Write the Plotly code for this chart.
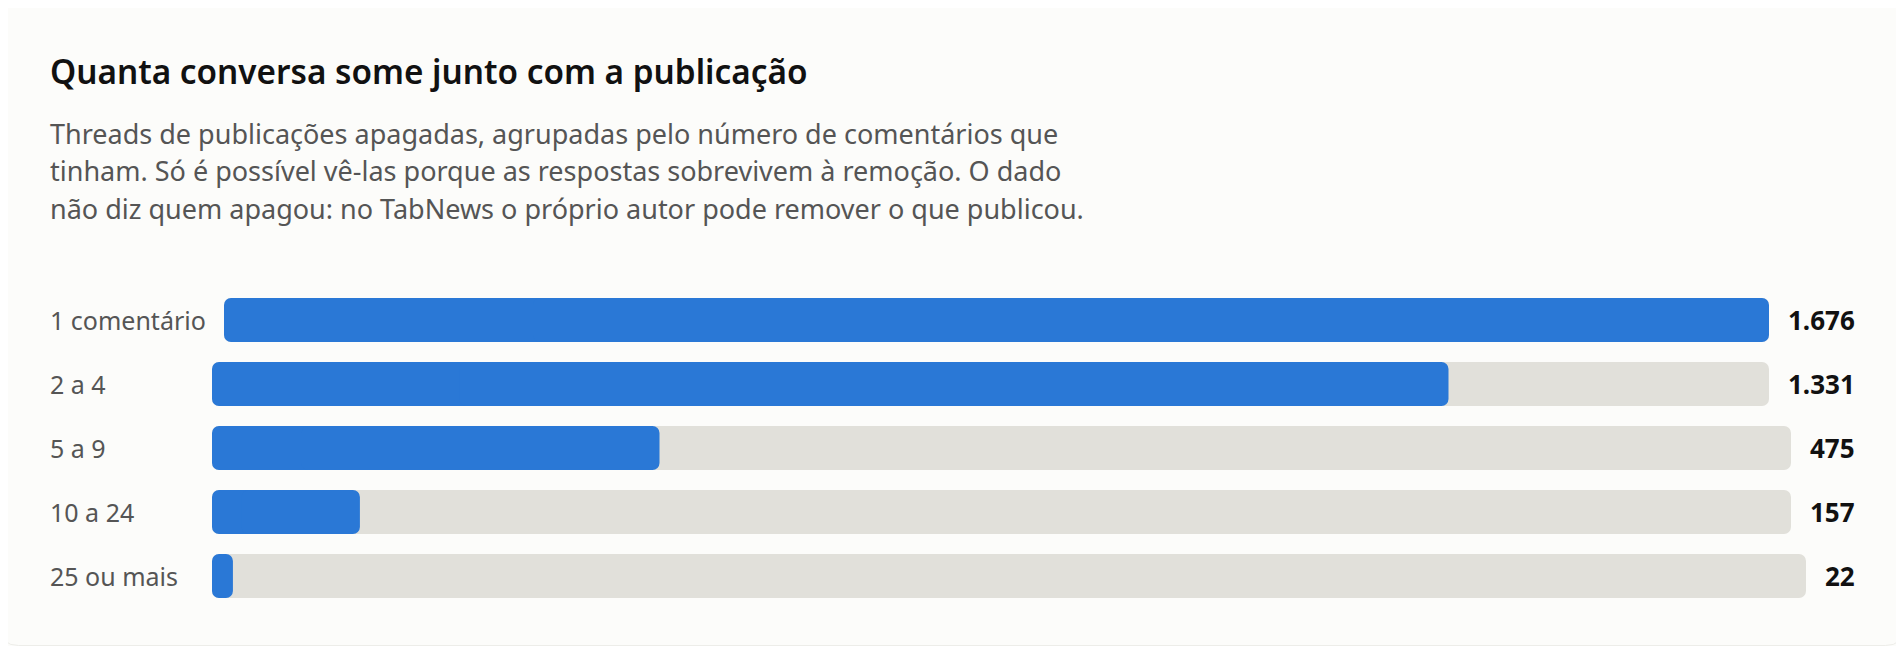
import plotly.graph_objects as go

# dados
categorias = ['1 comentário', '2 a 4', '5 a 9', '10 a 24', '25 ou mais']
threads = [1676, 1331, 475, 157, 22]

titulo = 'Quanta conversa some junto com a publicação'
subtitulo = [
    'Threads de publicações apagadas, agrupadas pelo número de comentários que',
    'tinham. Só é possível vê-las porque as respostas sobrevivem à remoção. O dado',
    'não diz quem apagou: no TabNews o próprio autor pode remover o que publicou.',
]

W, H = 1904, 646
OFF = 8  # margem do body da página
AZUL = '#2A78D6'
TRILHO = '#E1E0DA'
FUNDO = '#FCFCFA'
FONTE = 'Noto Sans'

# inicio/fim de cada trilho em px (o texto de cada linha empurra o trilho)
trilho_px = [(224, 1769), (212, 1769), (212, 1791), (212, 1791), (212, 1806)]
linha_topo, linha_base = 288, 608   # faixa vertical das linhas em px


def px_x(p):
    return (p - OFF) / W


def px_y(p):
    return 1 - (p - OFF) / H


def barra_arredondada(valor, cat, xa, cor):
    # cornerradius so arredonda a ponta livre da barra; duas partes sobrepostas
    # (uma para a direita, outra para a esquerda) arredondam as duas pontas
    comum = dict(y=[cat], orientation='h', xaxis=xa, yaxis='y', width=0.6875,
                 marker=dict(color=cor, cornerradius=7, line_width=0),
                 hoverinfo='skip', showlegend=False)
    return [
        go.Bar(x=[-valor * 0.8], base=[valor * 0.8], **comum),
        go.Bar(x=[valor * 0.8], base=[valor * 0.2], **comum),
    ]


maximo = max(threads)

fig = go.Figure()
layout_eixos = {}
for i, (cat, v) in enumerate(zip(categorias, threads)):
    n = '' if i == 0 else str(i + 1)
    xa = 'x' + n
    fig.add_traces(barra_arredondada(maximo, cat, xa, TRILHO))
    fig.add_traces(barra_arredondada(v, cat, xa, AZUL))
    x0, x1 = trilho_px[i]
    layout_eixos['xaxis' + n] = dict(
        domain=[px_x(x0), px_x(x1)], range=[0, maximo], anchor='y',
        visible=False, fixedrange=True,
    )

fig.update_layout(**layout_eixos)
fig.update_layout(
    width=W, height=H,
    margin=dict(l=0, r=0, t=0, b=0),
    paper_bgcolor=FUNDO, plot_bgcolor='rgba(0,0,0,0)',
    barmode='overlay', showlegend=False,
    font=dict(family=FONTE, color='#555555'),
    yaxis=dict(
        domain=[px_y(linha_base), px_y(linha_topo)],
        categoryorder='array', categoryarray=categorias,
        range=[len(categorias) - 0.5, -0.5],
        visible=False, fixedrange=True,
    ),
)

# borda do cartao (coordenadas da pagina)
x0c, x1c, y0c, y1c, r = px_x(0.5), px_x(W - 0.5), px_y(H - 0.5), px_y(0.5), 18
rx, ry = r / W, r / H
fig.add_shape(
    type='path', xref='paper', yref='paper', layer='below',
    path=(f'M {x0c + rx},{y0c} L {x1c - rx},{y0c} Q {x1c},{y0c} {x1c},{y0c + ry} '
          f'L {x1c},{y1c - ry} Q {x1c},{y1c} {x1c - rx},{y1c} '
          f'L {x0c + rx},{y1c} Q {x0c},{y1c} {x0c},{y1c - ry} '
          f'L {x0c},{y0c + ry} Q {x0c},{y0c} {x0c + rx},{y0c} Z'),
    fillcolor=FUNDO, line=dict(color='#EDEDE9', width=1),
)

fig.add_annotation(
    text=titulo, x=px_x(48), y=px_y(71), xref='paper', yref='paper',
    xanchor='left', yanchor='middle', showarrow=False,
    font=dict(size=33.3, color='#111111', weight=600),
)
for k, linha in enumerate(subtitulo):
    fig.add_annotation(
        text=linha, x=px_x(48), y=px_y(133 + 37.6 * k), xref='paper', yref='paper',
        xanchor='left', yanchor='middle', showarrow=False,
        font=dict(size=27, color='#555555'),
    )

for cat, v in zip(categorias, threads):
    fig.add_annotation(
        text=cat, x=px_x(48), y=cat, xref='paper', yref='y',
        xanchor='left', yanchor='middle', showarrow=False,
        font=dict(size=25, color='#555555'),
    )
    fig.add_annotation(
        text=f'{v:,}'.replace(',', '.'), x=px_x(1857), y=cat, xref='paper', yref='y',
        xanchor='right', yanchor='middle', showarrow=False,
        font=dict(size=26, color='#111111', weight=700),
    )

fig.write_html('out.html', config={'displayModeBar': False})
